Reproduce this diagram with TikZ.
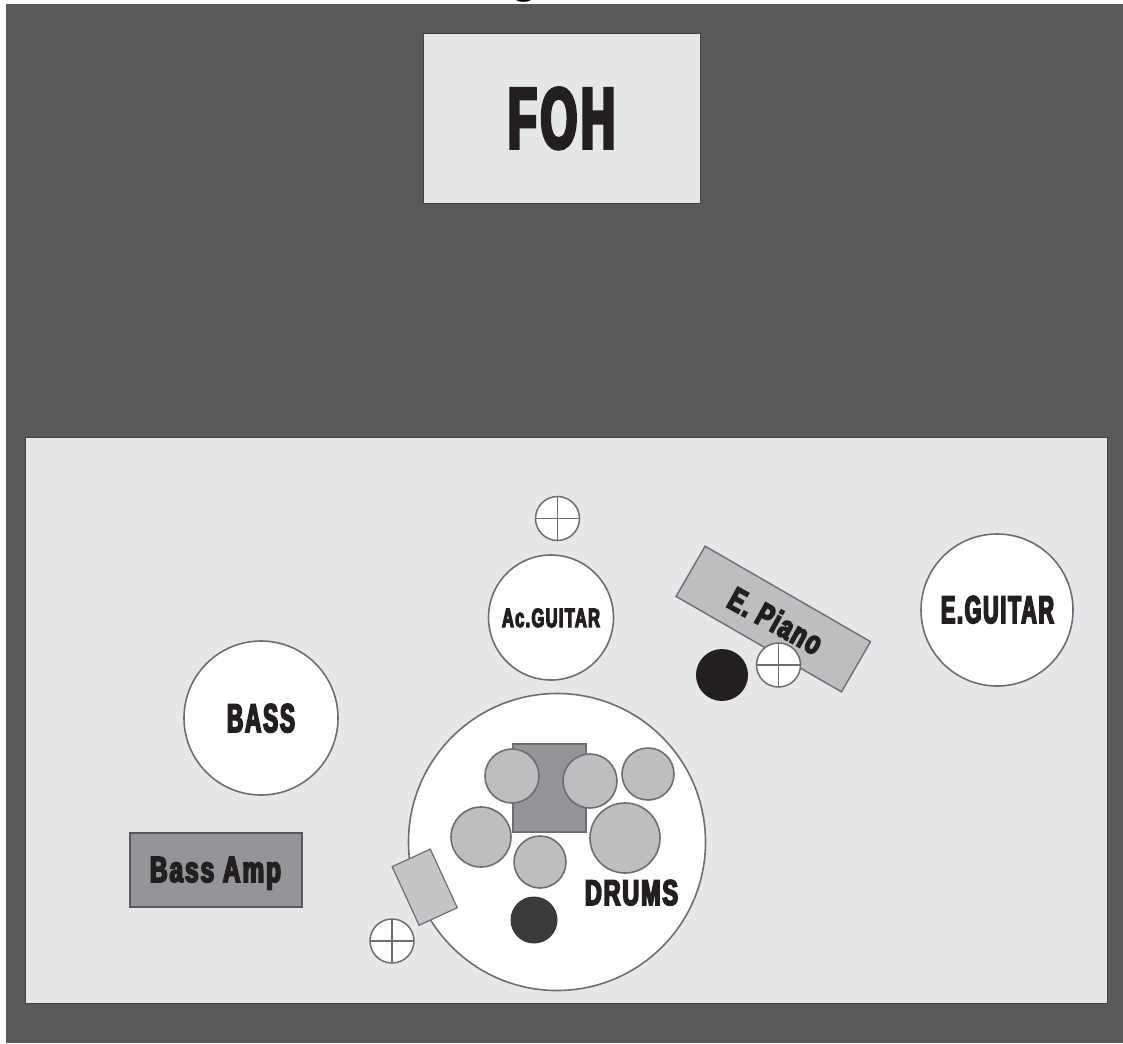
\documentclass[tikz,border=0pt]{standalone}
\usepackage{fontspec}
\setmainfont{Liberation Serif}
\newfontfamily\impact[FakeStretch=.62,LetterSpace=5,BoldFeatures={FakeBold=4.5,FakeStretch=.62,LetterSpace=5}]{Liberation Sans}
\newcommand{\fitlabel}[3]{\resizebox{#1pt}{#2pt}{\fontsize{40}{40}\selectfont\impact\bfseries #3}}
\definecolor{darkbg}{HTML}{58595B}
\definecolor{stage}{HTML}{E6E7E8}
\definecolor{edge}{HTML}{6D6E71}
\definecolor{drumc}{HTML}{BCBEC0}
\definecolor{boxc}{HTML}{939598}
\definecolor{ink}{HTML}{231F20}
\tikzset{
  panel/.style={draw=darkbg!75!black,fill=stage,line width=.8pt,inner sep=0pt,rectangle},
  round/.style={circle,draw=edge,fill=white,line width=1.6pt,inner sep=0pt,minimum size=#1*2pt},
  drum/.style={circle,draw=edge,fill=drumc,line width=1.6pt,inner sep=0pt,minimum size=#1*2pt},
  spot/.style={circle,fill=#1,draw=none,inner sep=0pt},
  mic/.style={circle,draw=edge,fill=white,line width=1.5pt,inner sep=0pt,minimum size=44pt,
    path picture={\draw[edge,line width=1.5pt]
      (path picture bounding box.north)--(path picture bounding box.south)
      (path picture bounding box.west)--(path picture bounding box.east);}},
  lbl/.style={text=ink,inner sep=0pt,anchor=base},
}
\begin{document}
\begin{tikzpicture}[x=1pt,y=-1pt]
\useasboundingbox (0,0) rectangle (1123,1043);
\fill[white] (0,0) rectangle (1123,1043);
\fill[darkbg] (6,4) rectangle (1123,1043);
\node[font=\bfseries\fontsize{40}{40}\selectfont,text=black,inner sep=0pt,anchor=base] (topg) at (524,-6) {g};
\node[panel,minimum width=277pt,minimum height=170pt] (foh) at (561.5,118) {};
\node[lbl] (fohl) at (561.5,148) {\fitlabel{107}{60}{FOH}};
\node[panel,minimum width=1082pt,minimum height=566pt] (stagebox) at (566,720) {};

\node[mic] (micA) at (557.5,518.5) {};
\node[round=62.5] (acg) at (551,617.5) {};
\node[lbl] (acgl) at (551,627) {\fitlabel{98}{18.5}{Ac.GUITAR}};
\node[round=76] (eg) at (997,610) {};
\node[lbl] (egl) at (997.5,623) {\fitlabel{113}{27}{E.GUITAR}};
\node[round=77] (bass) at (261,718) {};
\node[lbl] (bassl) at (261,732) {\fitlabel{68}{28}{BASS}};

\node[rectangle,draw=edge,fill=drumc,line width=1.4pt,minimum width=191pt,minimum height=58pt,inner sep=0pt,rotate=-30] (piano) at (773.3,619) {};
\node[lbl,rotate=-29] (pianol) at (770,631) {\fitlabel{102}{24}{E. Piano}};
\node[spot=ink,minimum size=52pt] (blackA) at (722,675) {};
\node[mic] (micB) at (778.5,665) {};

\node[rectangle,draw=darkbg,fill=boxc,line width=1.2pt,minimum width=172pt,minimum height=74pt,inner sep=0pt] (amp) at (216,870) {};
\node[lbl] (ampl) at (215.5,882) {\fitlabel{131}{25}{Bass Amp}};

\node[round=148.5] (drums) at (557,842) {};
\node[rectangle,draw=edge,fill=boxc,line width=1.4pt,minimum width=73pt,minimum height=88pt,inner sep=0pt] (sq) at (549.5,788) {};
\node[drum=27] (d1) at (512,776) {};
\node[drum=27] (d2) at (590,781) {};
\node[drum=26] (d3) at (648,774) {};
\node[drum=30] (d4) at (481,837) {};
\node[drum=26] (d5) at (540,862) {};
\node[drum=35] (d6) at (625,838) {};
\node[spot=darkbg!65!black,minimum size=47pt] (blackB) at (534,920) {};
\node[lbl] (drl) at (631.5,905) {\fitlabel{93}{25}{DRUMS}};
\node[rectangle,draw=edge,fill=drumc!90!white,line width=1.2pt,minimum width=42pt,minimum height=64.5pt,inner sep=0pt,rotate=24.7] (seat) at (424.7,887.2) {};
\node[mic] (micC) at (392,941) {};
\end{tikzpicture}
\end{document}
